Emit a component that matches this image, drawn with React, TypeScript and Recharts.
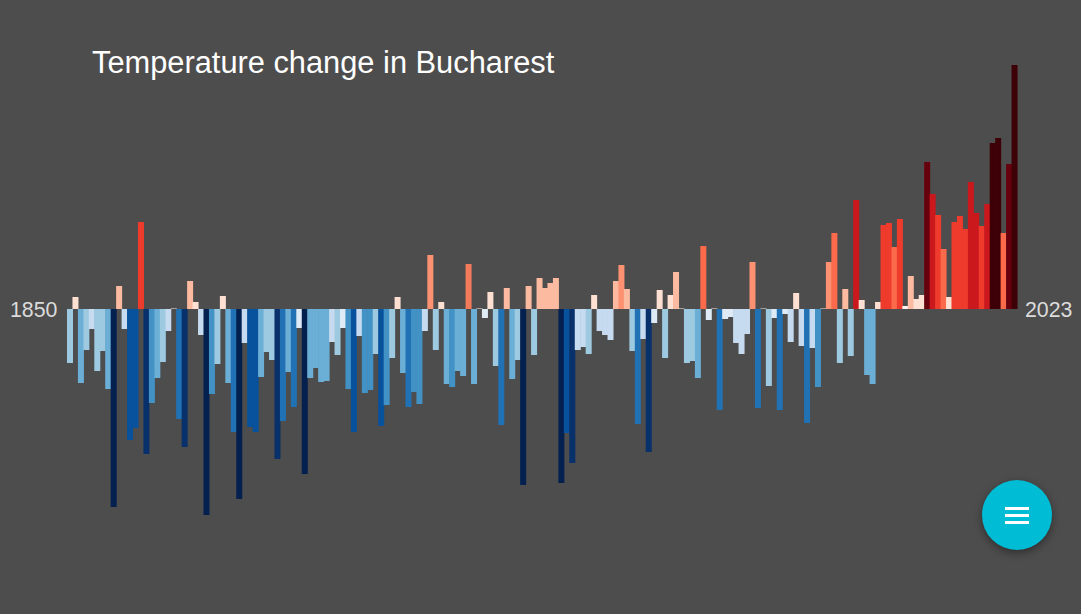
import React from "react";
import { BarChart, Bar, XAxis, YAxis } from "recharts";

const firstYear = 1850;
const title = "Temperature change in Bucharest";
const startLabel = "1850";
const endLabel = "2023";

const palette = [
  "#03204f", "#08306b", "#08519c", "#2171b5", "#4292c6", "#6baed6", "#9ecae1",
  "#c6dbef", "#deebf7", "#fff5f0", "#fee0d2", "#fcbba1", "#fc9272", "#fb6a4a",
  "#ef3b2c", "#cb181d", "#a50f15", "#67000d", "#3d0007", "#f47a5c",
];

const anomalies = [
  -54, 12, -74, -41, -20, -62, -42, -80, -198, 23,
  -20, -131, -119, 87, -145, -94, -69, -53, -22, 0.5,
  -110, -138, 28, 7, -26, -206, -85, -55, 13, -74,
  -123, -190, -34, -118, -123, -68, -43, -51, -150, -112,
  -63, -98, -19, -165, -69, -59, -73, -72, -33, -46,
  -19, -80, -123, -27, -84, -81, -45, -117, -96, -49,
  12, -64, -98, -83, -95, -22, 54, -41, 7, -75,
  -78, -62, -67, 45, -75, 0.5, -9, 17, -57, -116,
  21, -70, -51, -176, 23, -46, 31, 21, 26, 31,
  -174, -124, -154, -41, -38, -45, 14, -22, -26, -31,
  28, 44, 20, -42, -115, -30, -143, -14, 19, -49,
  14, 37, 0.5, -54, -52, -69, 63, -11, 0.5, -101,
  -10, -8, -34, -45, -25, 47, -99, 0.5, -77, -9,
  -101, -5, -33, 16, -37, -114, -39, -78, 0.5, 47,
  76, -54, 20, -47, 109, 9, -66, -75, 7, 84,
  86, 62, 90, 3, 33, 10, 14, 147, 115, 94,
  60, 12, 87, 93, 80, 127, 96, 83, 105, 166,
  171, 76, 145, 244,
];

const shades = [
  6, 10, 5, 6, 7, 6, 6, 5, 0, 11,
  7, 2, 2, 14, 1, 4, 5, 6, 7, 9,
  3, 1, 11, 10, 7, 0, 4, 6, 10, 5,
  3, 0, 7, 2, 2, 5, 6, 6, 1, 3,
  5, 3, 8, 0, 5, 5, 5, 5, 7, 6,
  8, 4, 2, 7, 4, 4, 6, 2, 4, 6,
  10, 5, 3, 4, 4, 7, 12, 6, 10, 5,
  4, 5, 5, 19, 5, 9, 8, 10, 6, 3,
  11, 5, 6, 0, 11, 6, 11, 11, 11, 11,
  0, 2, 1, 7, 7, 6, 10, 7, 7, 7,
  11, 12, 11, 6, 3, 7, 1, 8, 10, 6,
  10, 11, 9, 6, 6, 5, 13, 8, 9, 3,
  8, 8, 7, 7, 7, 12, 3, 9, 6, 8,
  3, 8, 7, 10, 7, 3, 7, 4, 9, 12,
  13, 6, 11, 6, 15, 10, 5, 5, 10, 14,
  14, 13, 14, 9, 11, 10, 10, 17, 15, 14,
  13, 10, 14, 14, 14, 15, 15, 14, 15, 18,
  18, 13, 17, 18,
];

const rows = anomalies.map((value, i) => ({ year: firstYear + i, value }));

const labelStyle: React.CSSProperties = {
  position: "absolute",
  top: 298,
  fontFamily: "'Liberation Sans', Arial, sans-serif",
  fontSize: 21.3,
  lineHeight: "25px",
  color: "#dcdcdc",
};

// Widens each bar just enough to close the seams left by the rounded band width.
function StripeBar(props: any) {
  const { x, y, width, height, index } = props;
  const top = Math.min(y, y + height);
  return (
    <rect x={x} y={top} width={width + 1} height={Math.abs(height)} fill={palette[shades[index]]} />
  );
}

export default function App() {
  return (
    <div
      style={{
        position: "fixed",
        left: 0,
        top: 0,
        width: 1081,
        height: 614,
        background: "#4d4d4d",
        overflow: "hidden",
      }}
    >
      <BarChart
        width={1081}
        height={614}
        data={rows}
        margin={{ top: 0, right: 64, bottom: 0, left: 67 }}
        barCategoryGap={0}
        barGap={0}
      >
        <XAxis dataKey="year" hide padding={{ left: 0, right: 0 }} />
        <YAxis hide domain={[-305, 309]} />
        <Bar dataKey="value" isAnimationActive={false} shape={StripeBar} />
      </BarChart>
      <div
        style={{
          position: "absolute",
          left: 92,
          top: 45,
          fontFamily: "'Liberation Sans', Arial, sans-serif",
          fontSize: 30.8,
          lineHeight: "36px",
          color: "#ffffff",
          whiteSpace: "nowrap",
        }}
      >
        {title}
      </div>
      <div style={{ ...labelStyle, left: 10 }}>{startLabel}</div>
      <div style={{ ...labelStyle, left: 1025 }}>{endLabel}</div>
      <div
        style={{
          position: "absolute",
          left: 982,
          top: 480,
          width: 70,
          height: 70,
          borderRadius: "50%",
          background: "#00bcd4",
          boxShadow: "0 3px 8px rgba(0,0,0,0.4)",
        }}
      >
        {[27, 34, 41].map((t) => (
          <div
            key={t}
            style={{ position: "absolute", left: 23, top: t, width: 24, height: 3, background: "#fff" }}
          />
        ))}
      </div>
    </div>
  );
}
